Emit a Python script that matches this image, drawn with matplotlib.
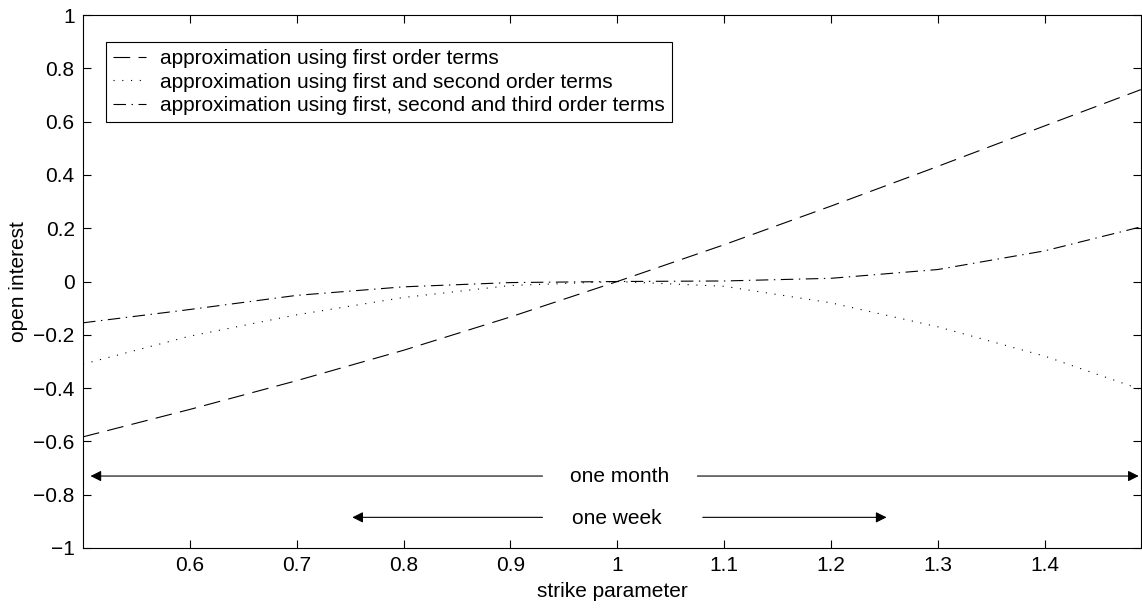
import numpy as np
import matplotlib.pyplot as plt

plt.rcParams['font.family'] = ['Liberation Sans', 'DejaVu Sans']
plt.rcParams['font.size'] = 15
plt.rcParams['lines.scale_dashes'] = False

# values
strike = [0.5, 0.6, 0.7, 0.8, 0.9, 1.0, 1.1, 1.2, 1.3, 1.4, 1.49]
first_order = [-0.583, -0.48, -0.372, -0.258, -0.133, 0.0, 0.138, 0.283, 0.432, 0.584, 0.72]
second_order = [-0.31, -0.205, -0.125, -0.06, -0.015, 0.0, -0.018, -0.08, -0.17, -0.28, -0.405]
third_order = [-0.155, -0.105, -0.052, -0.02, -0.004, 0.0, 0.002, 0.012, 0.045, 0.115, 0.205]

labels = ['approximation using first order terms',
          'approximation using first and second order terms',
          'approximation using first, second and third order terms']

fig = plt.figure(figsize=(11.42, 6.08), dpi=100)
ax = fig.add_axes([0.0727, 0.0987, 0.9263, 0.8766])

ax.plot(strike, first_order, color='k', lw=0.8, dashes=(12, 6), label=labels[0])
ax.plot(strike, second_order, color='k', lw=0.8, dashes=(0.8, 5.5), label=labels[1])
ax.plot(strike, third_order, color='k', lw=0.8, dashes=(9, 4, 1, 4), label=labels[2])

ax.set_xlim(0.5, 1.49)
ax.set_ylim(-1, 1)
ax.set_xticks(np.arange(0.6, 1.45, 0.1))
ax.set_xticklabels(['0.6', '0.7', '0.8', '0.9', '1', '1.1', '1.2', '1.3', '1.4'])
ax.set_yticks(np.arange(-1, 1.01, 0.2))
ax.set_yticklabels(['\u22121', '\u22120.8', '\u22120.6', '\u22120.4', '\u22120.2', '0',
                    '0.2', '0.4', '0.6', '0.8', '1'])
ax.tick_params(direction='in', top=True, right=True, length=6, width=0.8, pad=6)
for s in ax.spines.values():
    s.set_linewidth(0.8)

ax.set_xlabel('strike parameter', labelpad=5)
ax.set_ylabel('open interest', labelpad=4)

# time-span arrows
arrow = dict(arrowstyle='-|>', color='k', lw=0.8, mutation_scale=16, shrinkA=0, shrinkB=0)
ax.annotate('', xy=(0.507, -0.73), xytext=(0.93, -0.73), arrowprops=arrow)
ax.annotate('', xy=(1.488, -0.73), xytext=(1.075, -0.73), arrowprops=arrow)
ax.text(1.002, -0.73, 'one month', ha='center', va='center')
ax.annotate('', xy=(0.752, -0.885), xytext=(0.93, -0.885), arrowprops=arrow)
ax.annotate('', xy=(1.252, -0.885), xytext=(1.08, -0.885), arrowprops=arrow)
ax.text(1.0, -0.89, 'one week', ha='center', va='center')

leg = ax.legend(loc='upper left', bbox_to_anchor=(0.0217, 0.949), borderaxespad=0,
                fancybox=False, edgecolor='k', framealpha=1, handlelength=1.55,
                handletextpad=0.7, labelspacing=0.2, borderpad=0.35)
leg.get_frame().set_linewidth(0.8)

fig.savefig('out.png', dpi=100)
